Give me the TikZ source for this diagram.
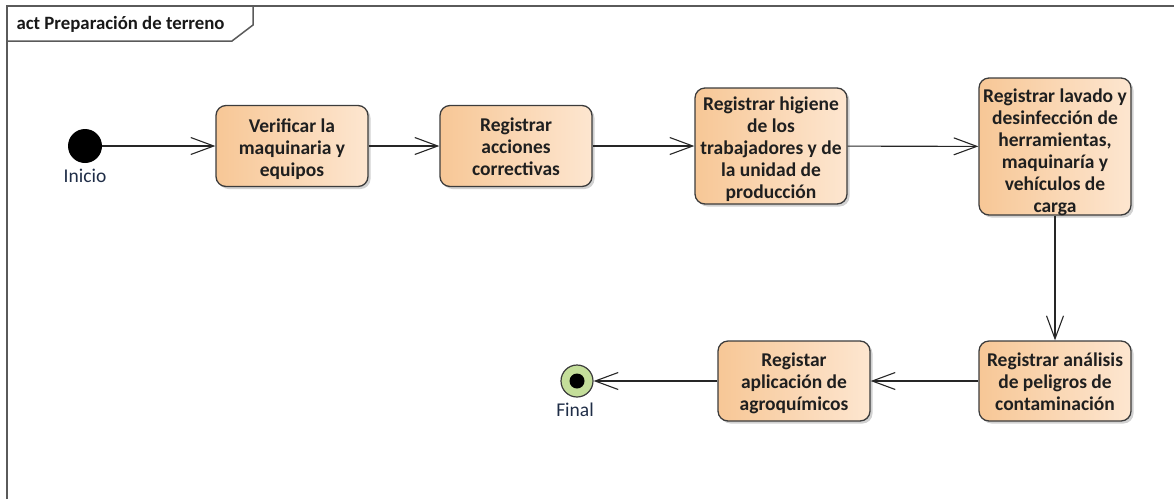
\documentclass[tikz,border=0pt]{standalone}
\usepackage{fontspec}
\setmainfont{Carlito}
\usetikzlibrary{arrows.meta,shadows}
\definecolor{actL}{HTML}{F7C796}
\definecolor{actR}{HTML}{FDE6D0}
\definecolor{edgeC}{HTML}{3C3C3C}
\definecolor{frameC}{HTML}{5A5A5A}
\definecolor{finalC}{HTML}{C4DE9A}
\definecolor{labelC}{HTML}{1F2D47}
% centred block of lines, lowered by #1 inside its box
\newcommand{\acttext}[2][9pt]{\raisebox{-#1}[0pt][0pt]{\begin{tabular}{@{}c@{}}#2\end{tabular}}}
\tikzset{
  action/.style={draw=edgeC, line width=1.3pt, rounded corners=10pt,
    left color=actL, right color=actR, minimum width=152pt,
    inner sep=0pt,
    font=\bfseries\fontsize{19.5}{22}\selectfont, text=black!88,
    drop shadow={shadow xshift=2.5pt, shadow yshift=-2.5pt, fill=black!30, opacity=0.6}},
  flow/.style={draw=black!85, line width=1.1pt,
    -{Straight Barb[length=23pt, width=17pt, line width=1.1pt]}},
  startnode/.style={circle, fill=black, minimum size=34pt, inner sep=0pt},
  endnode/.style={circle, draw=edgeC, line width=1.2pt, fill=finalC, minimum size=32pt, inner sep=0pt},
  pinlabel/.style={font=\fontsize{19.5}{22}\selectfont, text=labelC},
}
\begin{document}
\begin{tikzpicture}[x=1pt, y=-1pt]
\useasboundingbox (0,0) rectangle (1174,499);
% diagram frame and title tab
\draw[frameC, line width=1.8pt] (7,499) -- (7,6) -- (1174,6);
\draw[frameC, line width=1.5pt] (7,41) -- (232,41) -- (253,25) -- (253,6);
\node[anchor=base west, font=\bfseries\fontsize{18.8}{22}\selectfont, text=black!90] (title) at (13,29) {act Preparación de terreno};

% start and final
\node[startnode] (ini) at (85,146) {};
\node[pinlabel] (iniL) at (85,176) {Inicio};
\node[endnode] (fin) at (577,381) {};
\node[circle, fill=black, minimum size=15pt, inner sep=0pt] (finDot) at (577,381) {};
\node[pinlabel] (finL) at (575,410) {Final};

% actions
\node[action, minimum height=81pt] (a1) at (292,146) {\acttext{Verificar la\\maquinaria y\\equipos}};
\node[action, minimum height=81pt] (a2) at (516,146) {\acttext[8pt]{Registrar\\acciones\\correctivas}};
\node[action, minimum height=116pt] (a3) at (771,146) {\acttext{Registrar higiene\\de los\\trabajadores y de\\la unidad de\\producción}};
\node[action, minimum height=137pt] (a4) at (1055,146.5) {\acttext[12pt]{Registrar lavado y\\desinfección de\\herramientas,\\maquinaría y\\vehículos de\\carga}};
\node[action, minimum height=80pt] (a5) at (1055,381) {\acttext[8pt]{Registrar análisis\\de peligros de\\contaminación}};
\node[action, minimum height=80pt] (a6) at (794,381) {\acttext[8pt]{Registar\\aplicación de\\agroquímicos}};

% control flows
\draw[flow] (ini) -- (a1);
\draw[flow] (a1) -- (a2);
\draw[flow] (a2) -- (a3);
\draw[flow] (a3) -- (a4);
\draw[flow] (a4) -- (a5);
\draw[flow] (a5) -- (a6);
\draw[flow] (a6) -- (fin);
\end{tikzpicture}
\end{document}
